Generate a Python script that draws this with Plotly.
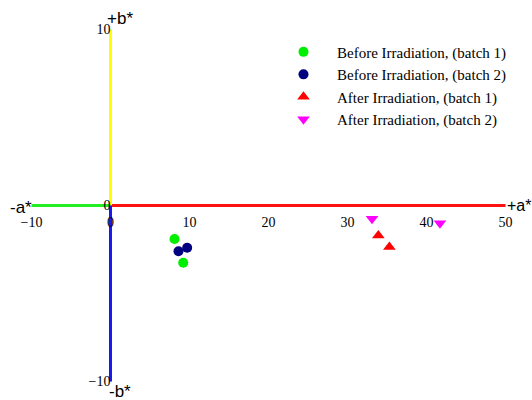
import plotly.graph_objects as go

# Data (a*, b*)
before_b1_a = [8.1, 9.2]
before_b1_b = [-1.9, -3.25]
before_b2_a = [8.6, 9.7]
before_b2_b = [-2.6, -2.4]
after_b1_a = [33.9, 35.3]
after_b1_b = [-1.7, -2.35]
after_b2_a = [33.1, 41.7]
after_b2_b = [-0.75, -1.0]

x_ticks = [-10, 0, 10, 20, 30, 40, 50]
y_ticks = [-10, 0, 10]

# axis segments
neg_a_x = [-10, 0]; neg_a_y = [0, 0]
pos_a_x = [0, 50]; pos_a_y = [0, 0]
pos_b_x = [0, 0]; pos_b_y = [0, 10]
neg_b_x = [0, 0]; neg_b_y = [0, -10]

XR = [-13.99, 53.35]
YR = [-11.05, 11.68]

fig = go.Figure()
line_w = 3
for xs, ys, col in [(neg_a_x, neg_a_y, "#22ee22"), (pos_a_x, pos_a_y, "#ff1111"),
                    (pos_b_x, pos_b_y, "#ffff00"), (neg_b_x, neg_b_y, "#1a1aee")]:
    fig.add_trace(go.Scatter(x=xs, y=ys, mode="lines", line=dict(color=col, width=line_w),
                             showlegend=False, hoverinfo="skip"))

fig.add_trace(go.Scatter(x=before_b1_a, y=before_b1_b, mode="markers", name="Before Irradiation, (batch 1)",
                         marker=dict(symbol="circle", size=10, color="#00ee00")))
fig.add_trace(go.Scatter(x=before_b2_a, y=before_b2_b, mode="markers", name="Before Irradiation, (batch 2)",
                         marker=dict(symbol="circle", size=10, color="#000080")))
fig.add_trace(go.Scatter(x=after_b1_a, y=after_b1_b, mode="markers", name="After Irradiation, (batch 1)",
                         marker=dict(symbol="triangle-up", size=11, color="#ff0000")))
fig.add_trace(go.Scatter(x=after_b2_a, y=after_b2_b, mode="markers", name="After Irradiation, (batch 2)",
                         marker=dict(symbol="triangle-down", size=11, color="#ff00ff")))

serif = "Liberation Serif, Times New Roman, serif"
sans = "Liberation Sans, Arial, sans-serif"

fig.update_layout(
    width=532, height=400,
    margin=dict(l=0, r=0, t=0, b=0),
    paper_bgcolor="white", plot_bgcolor="white",
    xaxis=dict(range=XR, tickvals=x_ticks, showgrid=False, zeroline=False, showline=False,
               anchor="free", position=(0 - YR[0]) / (YR[1] - YR[0]),
               tickfont=dict(family=serif, size=14, color="black"), ticks="", ticklabelstandoff=6,
               domain=[0, 1]),
    yaxis=dict(range=YR, tickvals=y_ticks, showgrid=False, zeroline=False, showline=False,
               anchor="free", position=(0 - XR[0]) / (XR[1] - XR[0]),
               tickfont=dict(family=serif, size=14, color="black"), ticks="",
               domain=[0, 1]),
    legend=dict(x=0.5075, y=0.911, xanchor="left", yanchor="top", bgcolor="rgba(0,0,0,0)",
                font=dict(family=serif, size=15, color="black"), itemwidth=57),
    showlegend=True,
)

ann = [
    dict(x=-10, y=0, text="-a*", xanchor="right", yanchor="middle", xshift=1, yshift=-2, size=17),
    dict(x=50, y=0, text="+a*", xanchor="left", yanchor="middle", xshift=0, size=16),
    dict(x=0, y=10, text="+b*", xanchor="left", yanchor="bottom", xshift=-5, yshift=1, size=17),
    dict(x=0, y=-10, text="-b*", xanchor="left", yanchor="top", xshift=-3, yshift=1, size=17),
]
for a in ann:
    sz = a.pop("size")
    fig.add_annotation(**a, showarrow=False, borderpad=0, font=dict(family=sans, size=sz, color="black"))

fig.write_html("out.html")
